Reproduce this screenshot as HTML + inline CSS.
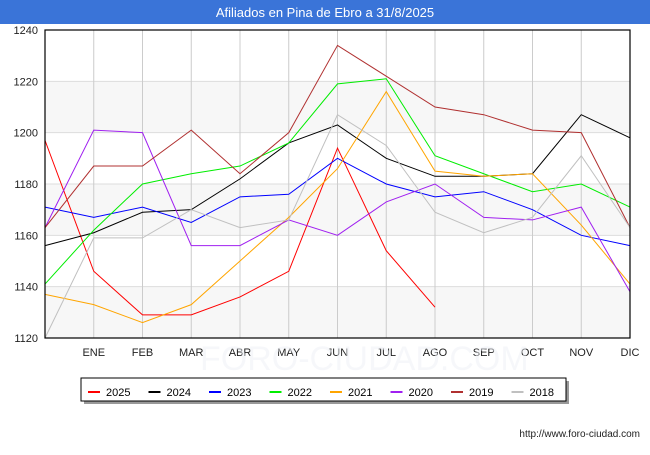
<!DOCTYPE html>
<html><head><meta charset="utf-8"><style>
body{margin:0;width:650px;height:450px;background:#fff;font-family:"Liberation Sans",sans-serif;overflow:hidden}
</style></head><body>
<svg width="650" height="450" xmlns="http://www.w3.org/2000/svg">
<rect x="0" y="0" width="650" height="24" fill="#3a74d8"/>
<text x="325" y="17" text-anchor="middle" fill="#fff" font-size="13">Afiliados en Pina de Ebro a 31/8/2025</text>
<g id="bands"></g><g id="grid"></g><g id="lines"></g>
<rect x="45" y="30" width="585" height="308" fill="none" stroke="#000" stroke-width="1.2"/>
<g id="ticks" font-size="11" fill="#222"></g>
<text x="200" y="370" font-size="34" fill="#eef1f7" opacity="0.5">FORO-CIUDAD.COM</text>
<rect x="84" y="381" width="485" height="23" fill="#999"/>
<rect x="81" y="378" width="485" height="23" fill="#fff" stroke="#000"/>
<g id="legend" font-size="11"></g>
<text x="640" y="437" text-anchor="end" font-size="10" fill="#222">http://www.foro-ciudad.com</text>
</svg>
<script>
const months=["","ENE","FEB","MAR","ABR","MAY","JUN","JUL","AGO","SEP","OCT","NOV","DIC"];
const yTicks=[1120,1140,1160,1180,1200,1220,1240];
const seriesNames=["2025","2024","2023","2022","2021","2020","2019","2018"];
const seriesColors=["#ff0000","#000000","#0000ff","#00ee00","#ffa500","#a020f0","#b03030","#c0c0c0"];
const s2025=[1197,1146,1129,1129,1136,1146,1194,1154,1132];
const s2024=[1156,1161,1169,1170,1182,1196,1203,1190,1183,1183,1184,1207,1198];
const s2023=[1171,1167,1171,1165,1175,1176,1190,1180,1175,1177,1170,1160,1156];
const s2022=[1141,1162,1180,1184,1187,1196,1219,1221,1191,1184,1177,1180,1171];
const s2021=[1137,1133,1126,1133,1150,1167,1186,1216,1185,1183,1184,1164,1141];
const s2020=[1163,1201,1200,1156,1156,1166,1160,1173,1180,1167,1166,1171,1138];
const s2019=[1163,1187,1187,1201,1184,1200,1234,1222,1210,1207,1201,1200,1163];
const s2018=[1120,1159,1159,1170,1163,1166,1207,1195,1169,1161,1167,1191,1163];
const allSeries=[s2025,s2024,s2023,s2022,s2021,s2020,s2019,s2018];
const NS="http://www.w3.org/2000/svg";
const x=i=>45+i*585/12, y=v=>338-(v-1120)*308/120;
function mk(t,a,p){const e=document.createElementNS(NS,t);for(const k in a)e.setAttribute(k,a[k]);p.appendChild(e);return e;}
const bands=document.getElementById('bands'),grid=document.getElementById('grid'),ticks=document.getElementById('ticks'),lines=document.getElementById('lines'),leg=document.getElementById('legend');
for(let k=0;k<yTicks.length-1;k++){if(k%2==0){const r=mk('rect',{x:45,y:y(yTicks[k+1]),width:585,height:y(yTicks[k])-y(yTicks[k+1]),fill:'#f7f7f7'},bands);

}}
yTicks.forEach(v=>{const l=mk('line',{x1:45,x2:630,y1:y(v),y2:y(v),stroke:'#ddd'},grid);


const t=mk('text',{x:38,y:y(v)+4,'text-anchor':'end'},ticks);t.textContent=v;

});
months.forEach((m,i)=>{if(i>0){const l=mk('line',{x1:x(i),x2:x(i),y1:30,y2:338,stroke:'#ccc'},grid);

}
if(m){const t=mk('text',{x:x(i),y:356,'text-anchor':'middle'},ticks);t.textContent=m;

}});
allSeries.forEach((s,k)=>{const p=mk('polyline',{points:s.map((v,i)=>x(i)+','+y(v)).join(' '),fill:'none',stroke:seriesColors[k],'stroke-width':1},lines);


const lx=88+k*60.5;
const ll=mk('line',{x1:lx,x2:lx+12,y1:392,y2:392,stroke:seriesColors[k],'stroke-width':2},leg);


const t=mk('text',{x:lx+18,y:396},leg);t.textContent=seriesNames[k];

});
</script>
</body></html>
